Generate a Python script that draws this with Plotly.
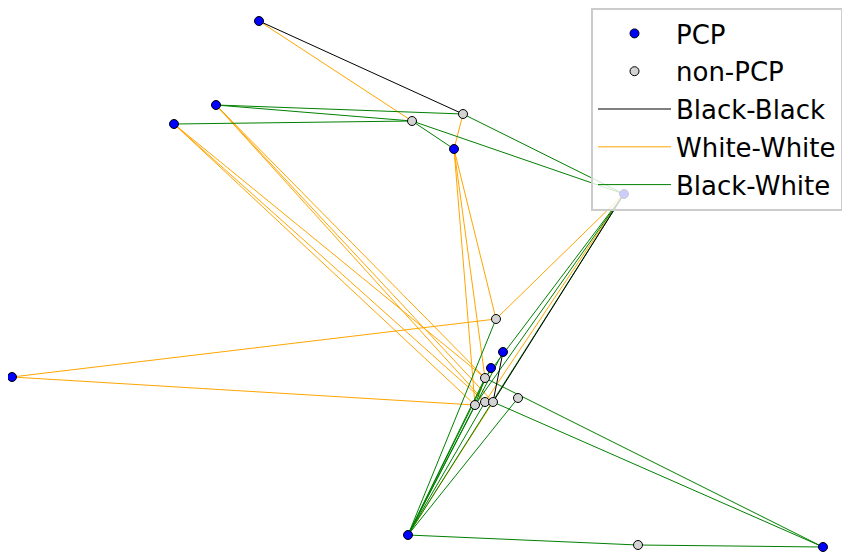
import plotly.graph_objects as go

# Node layout positions (graph layout coordinates, y grows downward)
node_names = ["A", "B", "C", "D", "E", "F", "G", "H", "I", "L",
              "J", "K", "M", "N", "O", "P", "Q", "R", "S"]
node_x = [259, 216, 174, 454, 12, 503, 491, 408, 823, 624,
          463, 412, 496, 485, 475, 485, 493, 518, 638]
node_y = [21, 105, 124, 149, 377, 352, 368, 535, 547, 194,
          114, 121, 319, 378, 405, 402, 402, 398, 545]
node_type = ["PCP"] * 10 + ["non-PCP"] * 9

# Edges by type (pairs of node names)
edges_black_black = [("A", "J"), ("L", "Q"), ("F", "Q")]
edges_white_white = [("A", "K"), ("J", "D"), ("D", "M"), ("D", "O"), ("D", "N"),
                     ("E", "M"), ("E", "O"),
                     ("B", "N"), ("B", "Q"), ("B", "P"),
                     ("C", "O"), ("C", "P"), ("C", "N"),
                     ("L", "M"), ("L", "P"), ("Q", "H")]
edges_black_white = [("B", "J"), ("B", "K"), ("C", "K"), ("K", "D"), ("K", "L"), ("J", "L"),
                     ("L", "N"), ("L", "O"), ("L", "H"),
                     ("H", "M"), ("H", "N"), ("H", "G"), ("H", "F"), ("H", "P"), ("H", "O"),
                     ("H", "R"), ("H", "S"), ("S", "I"), ("N", "I"), ("Q", "I"), ("N", "O")]

pos = {n: (x, y) for n, x, y in zip(node_names, node_x, node_y)}


def edge_xy(edges):
    xs, ys = [], []
    for a, b in edges:
        xs += [pos[a][0], pos[b][0], None]
        ys += [pos[a][1], pos[b][1], None]
    return xs, ys


fig = go.Figure()

edge_sets = [("White-White", edges_white_white, "#FFA500", 4),
             ("Black-White", edges_black_white, "#008000", 5),
             ("Black-Black", edges_black_black, "#000000", 3)]
for name, edges, color, rank in edge_sets:
    xs, ys = edge_xy(edges)
    fig.add_trace(go.Scatter(x=xs, y=ys, mode="lines", name=name,
                             line=dict(color=color, width=1),
                             legendrank=rank, legendgroup=name, hoverinfo="skip"))

for name, color, rank in [("PCP", "#0000FF", 1), ("non-PCP", "#D3D3D3", 2)]:
    xs = [x for x, t in zip(node_x, node_type) if t == name]
    ys = [y for y, t in zip(node_y, node_type) if t == name]
    fig.add_trace(go.Scatter(x=xs, y=ys, mode="markers", name=name,
                             marker=dict(color=color, size=9,
                                         line=dict(color="#000000", width=1)),
                             legendrank=rank, legendgroup=name))

# page body has an 8px offset; shift the view so the layout lines up with the window
off = 8
fig.update_layout(
    width=850, height=552,
    margin=dict(l=0, r=0, t=0, b=0),
    paper_bgcolor="white", plot_bgcolor="white",
    xaxis=dict(range=[off, 850 + off], visible=False),
    yaxis=dict(range=[552 + off, off], visible=False),
    font=dict(family="DejaVu Sans", color="black"),
    legend=dict(x=(591 - off) / 850, y=1 - (8 - off) / 552, xanchor="left", yanchor="top",
                bgcolor="rgba(255,255,255,0.8)", bordercolor="#CCCCCC", borderwidth=2,
                font=dict(size=26, family="DejaVu Sans"),
                traceorder="grouped", tracegroupgap=1, itemwidth=73),
    showlegend=True,
)

fig.write_html("out.html")
